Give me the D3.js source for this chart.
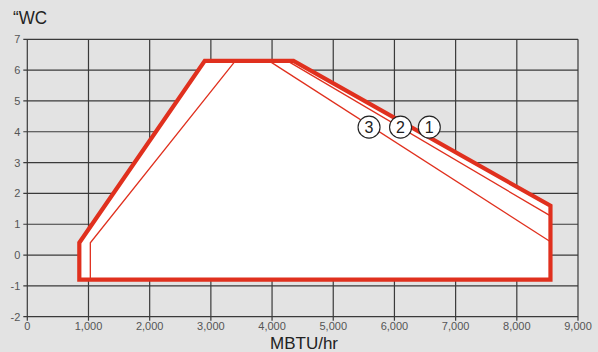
<!DOCTYPE html>
<html>
<head>
<meta charset="utf-8">
<script src="https://cdn.jsdelivr.net/npm/d3@7"></script>
<style>
  html, body { margin: 0; padding: 0; background: #e3e3e3; }
  svg { display: block; font-family: "Liberation Sans", Arial, sans-serif; }
</style>
</head>
<body>
<svg id="chart" width="598" height="352"></svg>
<script>
// Operating envelope: firing rate (MBTU/hr) vs. pressure ("WC)
const xTicks = [0, 1000, 2000, 3000, 4000, 5000, 6000, 7000, 8000, 9000];
const yTicks = [-2, -1, 0, 1, 2, 3, 4, 5, 6, 7];

// outer envelope (curve 1)
const envelopeX = [850, 850, 2900, 4350, 8550, 8550];
const envelopeY = [-0.8, 0.4, 6.3, 6.3, 1.6, -0.8];

// inner limit on the low-fire side
const innerLeftX = [1030, 1030, 3400];
const innerLeftY = [-0.8, 0.4, 6.3];

// high-fire limits for curves 2 and 3
const curve2X = [4250, 8550];
const curve2Y = [6.3, 1.27];
const curve3X = [3950, 8550];
const curve3Y = [6.3, 0.43];

// numbered curve markers
const markerLabels = ["3", "2", "1"];
const markerX = [5585, 6100, 6570];
const markerY = [4.15, 4.15, 4.15];

const svg = d3.select("#chart");
const red = "#e0301e";

const x = d3.scaleLinear().domain([0, 9000]).range([27.3, 578]);
const y = d3.scaleLinear().domain([-2, 7]).range([316.7, 39.3]);

// grid
const grid = svg.append("g");
grid.selectAll("line.v").data(xTicks).join("line")
  .attr("x1", d => x(d)).attr("x2", d => x(d))
  .attr("y1", y(7)).attr("y2", y(-2) + 4)
  .attr("stroke", "#3a3a3a").attr("stroke-width", 1.2);
grid.selectAll("line.h").data(yTicks).join("line")
  .attr("x1", x(0) - 4).attr("x2", x(9000))
  .attr("y1", d => y(d)).attr("y2", d => y(d))
  .attr("stroke", "#3a3a3a").attr("stroke-width", 1.2);

// axis labels
const fmt = d3.format(",");
svg.append("g").selectAll("text").data(xTicks).join("text")
  .attr("x", d => x(d)).attr("y", y(-2) + 13)
  .attr("text-anchor", "middle").attr("font-size", 11).attr("fill", "#555")
  .text(d => fmt(d));
svg.append("g").selectAll("text").data(yTicks).join("text")
  .attr("x", x(0) - 7).attr("y", d => y(d) + 4)
  .attr("text-anchor", "end").attr("font-size", 11).attr("fill", "#555")
  .text(d => d < 0 ? "-" + Math.abs(d) : d);

const line = d3.line().x(d => x(d[0])).y(d => y(d[1]));
const pts = (xs, ys) => xs.map((v, i) => [v, ys[i]]);

// envelope fill and outline
svg.append("path")
  .attr("d", line(pts(envelopeX, envelopeY)) + "Z")
  .attr("fill", "#fff").attr("stroke", "none");

[[innerLeftX, innerLeftY], [curve2X, curve2Y], [curve3X, curve3Y]].forEach(([xs, ys]) => {
  svg.append("path").attr("d", line(pts(xs, ys)))
    .attr("fill", "none").attr("stroke", red).attr("stroke-width", 1.3);
});

svg.append("path")
  .attr("d", line(pts(envelopeX, envelopeY)) + "Z")
  .attr("fill", "none").attr("stroke", red).attr("stroke-width", 4.2)
  .attr("stroke-linejoin", "miter");

// markers
const m = svg.append("g").selectAll("g").data(markerLabels).join("g")
  .attr("transform", (d, i) => `translate(${x(markerX[i])},${y(markerY[i])})`);
m.append("circle").attr("r", 11).attr("fill", "#fff").attr("stroke", "#222").attr("stroke-width", 1.1);
m.append("text").attr("text-anchor", "middle").attr("y", 5.8)
  .attr("font-size", 16).attr("fill", "#222").text(d => d);

// titles
svg.append("text").attr("x", 13).attr("y", 24).attr("font-size", 19).attr("fill", "#222")
  .attr("textLength", 34).attr("lengthAdjust", "spacingAndGlyphs")
  .text("\u201CWC");
svg.append("text").attr("x", 304).attr("y", 349).attr("text-anchor", "middle")
  .attr("font-size", 17).attr("fill", "#222").text("MBTU/hr");
</script>
</body>
</html>
